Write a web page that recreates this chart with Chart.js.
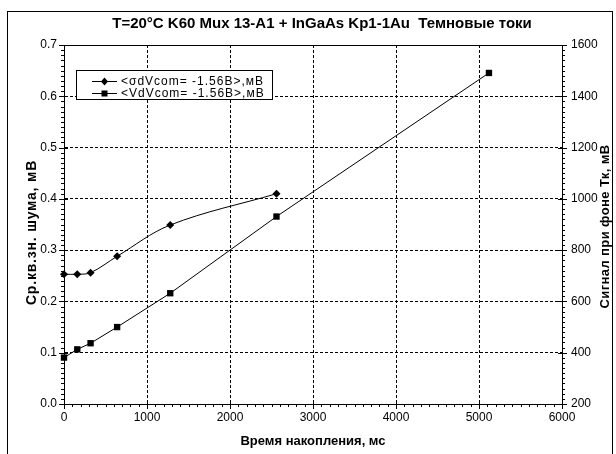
<!DOCTYPE html>
<html>
<head>
<meta charset="utf-8">
<script src="https://cdn.jsdelivr.net/npm/chart.js@4"></script>
<style>
  html, body { margin: 0; padding: 0; background: #fff; }
</style>
</head>
<body>
<canvas id="chart" width="616" height="454"></canvas>
<script>
// accumulation time, ms
const timeMs = [0, 160, 320, 640, 1280, 2560, 5120];
// RMS noise, mV (left axis)
const noiseMv = [0.253, 0.253, 0.256, 0.288, 0.349, 0.41];
// signal on Tk background, mV (right axis)
const signalMv = [381, 413, 437, 500, 632, 931, 1491];

const xTicks = [0, 1000, 2000, 3000, 4000, 5000, 6000];
const leftTicks = [0, 0.1, 0.2, 0.3, 0.4, 0.5, 0.6, 0.7];
const rightTicks = [200, 400, 600, 800, 1000, 1200, 1400, 1600];

const chartTitle = "T=20°C K60 Mux 13-A1 + InGaAs Kp1-1Au  Темновые токи";
const leftTitle = "Ср.кв.зн. шума, мВ";
const rightTitle = "Сигнал при фоне Тк, мВ";
const seriesNames = ["<σdVcom= -1.56В>,мВ", "<VdVcom= -1.56В>,мВ"];

const FONT = '"Liberation Sans", Arial, sans-serif';

const noisePoints = noiseMv.map((v, i) => ({ x: timeMs[i], y: v }));
const signalPoints = signalMv.map((v, i) => ({ x: timeMs[i], y: v }));

function setTicks(values) {
  return (scale) => {
    scale.ticks = values.map((v) => ({ value: v }));
  };
}

function rotatedText(ctx, text, x, y, font, spacing) {
  ctx.save();
  ctx.fillStyle = "#000";
  ctx.font = font;
  ctx.letterSpacing = spacing;
  ctx.textAlign = "center";
  ctx.textBaseline = "middle";
  ctx.translate(x, y);
  ctx.rotate(-Math.PI / 2);
  ctx.fillText(text, 0, 0);
  ctx.restore();
}

// frame, minor ticks, titles and the legend box
const excelBits = {
  id: "excelBits",
  beforeDraw(chart) {
    const ctx = chart.ctx;
    ctx.save();
    ctx.fillStyle = "#fff";
    ctx.fillRect(0, 0, chart.width, chart.height);
    ctx.strokeStyle = "#000";
    ctx.lineWidth = 1;
    ctx.strokeRect(7.5, 11.5, 605, 460);
    ctx.restore();
  },
  beforeDatasetsDraw(chart) {
    const { ctx, chartArea: a, scales } = chart;
    ctx.save();
    ctx.strokeStyle = "#000";
    ctx.lineWidth = 1;
    ctx.setLineDash([]);
    ctx.strokeRect(Math.round(a.left) + 0.5, Math.round(a.top) + 0.5,
      Math.round(a.right - a.left), Math.round(a.bottom - a.top));

    ctx.beginPath();
    for (let i = 0; i <= 60; i++) {
      const px = Math.round(scales.x.getPixelForValue(i * 100)) + 0.5;
      const len = i % 10 === 0 ? 5 : 3;
      ctx.moveTo(px, a.bottom - (i % 10 === 0 ? 4 : 0));
      ctx.lineTo(px, a.bottom + len);
    }
    for (let i = 0; i <= 70; i++) {
      const py = Math.round(scales.y.getPixelForValue(i / 100)) + 0.5;
      const len = i % 10 === 0 ? 5 : 3;
      ctx.moveTo(a.left - len, py);
      ctx.lineTo(a.left + (i % 10 === 0 ? 4 : 0), py);
      const py2 = Math.round(scales.y1.getPixelForValue(200 + i * 20)) + 0.5;
      ctx.moveTo(a.right - (i % 10 === 0 ? 4 : 0), py2);
      ctx.lineTo(a.right + len, py2);
    }
    ctx.stroke();
    ctx.restore();
  },
  afterDraw(chart) {
    const { ctx, chartArea: a } = chart;
    const midY = (a.top + a.bottom) / 2;

    ctx.save();
    ctx.fillStyle = "#000";
    ctx.font = "bold 15px " + FONT;
    ctx.textAlign = "center";
    ctx.textBaseline = "middle";
    ctx.fillText(chartTitle, 322, 24);
    ctx.restore();

    rotatedText(ctx, leftTitle, 32, midY + 8, "bold 14px " + FONT, "0.8px");
    rotatedText(ctx, rightTitle, 605, midY + 2, "bold 13px " + FONT, "0.4px");

    // legend box
    ctx.save();
    ctx.fillStyle = "#fff";
    ctx.fillRect(76, 70, 196, 29);
    ctx.strokeStyle = "#000";
    ctx.lineWidth = 1;
    ctx.strokeRect(76.5, 70.5, 196, 29);
    ctx.font = "12px " + FONT;
    ctx.letterSpacing = "1px";
    ctx.textBaseline = "middle";
    ctx.textAlign = "left";
    const rows = [81, 93];
    rows.forEach((y, i) => {
      ctx.beginPath();
      ctx.moveTo(92, y + 0.5);
      ctx.lineTo(117, y + 0.5);
      ctx.stroke();
      ctx.fillStyle = "#000";
      if (i === 0) {
        ctx.beginPath();
        ctx.moveTo(104.5, y - 3.5);
        ctx.lineTo(108, y + 0.5);
        ctx.lineTo(104.5, y + 4.5);
        ctx.lineTo(101, y + 0.5);
        ctx.closePath();
        ctx.fill();
      } else {
        ctx.fillRect(101.5, y - 2.5, 6, 6);
      }
      ctx.fillText(seriesNames[i], 121, y + 1);
    });
    ctx.restore();
  },
};

const gridStyle = { color: "#000", lineWidth: 1, drawTicks: false };
const borderStyle = { display: true, color: "#000", width: 1, dash: [3, 2] };
const tickFont = { family: FONT, size: 12 };

new Chart(document.getElementById("chart"), {
  type: "line",
  data: {
    datasets: [
      {
        label: seriesNames[0],
        data: noisePoints,
        yAxisID: "y",
        borderColor: "#000",
        backgroundColor: "#000",
        borderWidth: 1,
        pointStyle: "rectRot",
        pointRadius: 4,
        pointBorderWidth: 0,
        tension: 0.35,
        clip: false,
      },
      {
        label: seriesNames[1],
        data: signalPoints,
        yAxisID: "y1",
        borderColor: "#000",
        backgroundColor: "#000",
        borderWidth: 1,
        pointStyle: "rect",
        pointRadius: 4.5,
        pointBorderWidth: 0,
        tension: 0,
        clip: false,
      },
    ],
  },
  options: {
    responsive: false,
    animation: false,
    layout: { padding: { top: 45, left: 0, right: 0, bottom: 0 } },
    plugins: {
      legend: { display: false },
      tooltip: { enabled: false },
      title: { display: false },
    },
    scales: {
      x: {
        type: "linear",
        min: 0,
        max: 6000,
        afterBuildTicks: setTicks(xTicks),
        afterFit: (s) => { s.height = 50; },
        grid: gridStyle,
        border: borderStyle,
        ticks: { color: "#000", font: tickFont, padding: 6, maxRotation: 0, callback: (v) => String(v) },
        title: {
          display: true,
          text: "Время накопления, мс",
          color: "#000",
          font: { family: FONT, size: 13, weight: "bold" },
          padding: { top: 0, bottom: 5 },
        },
      },
      y: {
        position: "left",
        min: 0,
        max: 0.7,
        afterBuildTicks: setTicks(leftTicks),
        afterFit: (s) => { s.width = 64; },
        grid: gridStyle,
        border: borderStyle,
        ticks: { color: "#000", font: tickFont, padding: 7, callback: (v) => v.toFixed(1) },
      },
      y1: {
        position: "right",
        min: 200,
        max: 1600,
        afterBuildTicks: setTicks(rightTicks),
        afterFit: (s) => { s.width = 54; },
        grid: { drawOnChartArea: false, drawTicks: false, color: "#000" },
        border: { display: true, color: "#000" },
        ticks: { color: "#000", font: tickFont, padding: 9, callback: (v) => String(v) },
      },
    },
  },
  plugins: [excelBits],
});
</script>
</body>
</html>
